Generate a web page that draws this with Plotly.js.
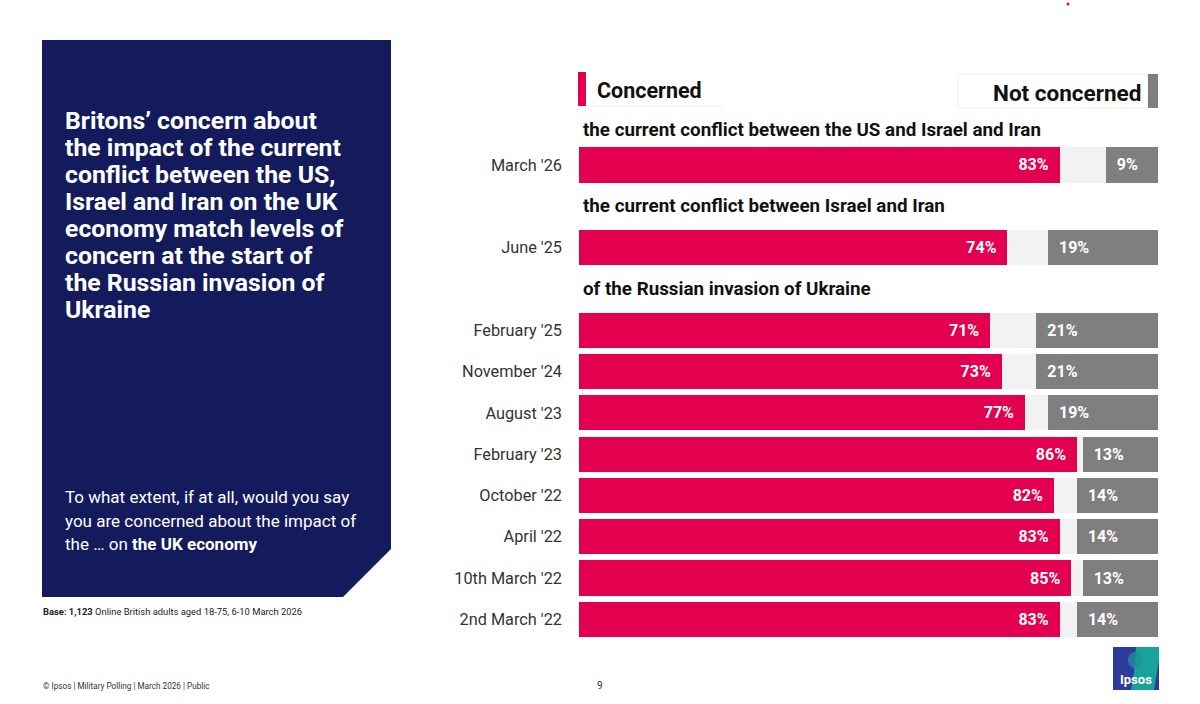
<!DOCTYPE html>
<html>
<head>
<meta charset="utf-8">
<script src="https://cdn.plot.ly/plotly-3.0.1.min.js"></script>
<style>
  html, body { margin: 0; padding: 0; background: #ffffff; }
  #chart { width: 1200px; height: 704px; }
</style>
</head>
<body>
<div id="chart"></div>
<script>
// ---------- DATA ----------
const groupHeaders = [
  "the current conflict between the US and Israel and Iran",
  "the current conflict between Israel and Iran",
  "of the Russian invasion of Ukraine"
];
const groupSizes = [1, 1, 8];
const waveLabels = ["March '26", "June '25", "February '25", "November '24", "August '23",
                    "February '23", "October '22", "April '22", "10th March '22", "2nd March '22"];
const concerned = [83, 74, 71, 73, 77, 86, 82, 83, 85, 83];
const notConcerned = [9, 19, 21, 21, 19, 13, 14, 14, 13, 14];
const dontKnow = concerned.map((c, i) => 100 - c - notConcerned[i]);

const titleLines = [
  "Britons\u2019 concern about",
  "the impact of the current",
  "conflict between the US,",
  "Israel and Iran on the UK",
  "economy match levels of",
  "concern at the start of",
  "the Russian invasion of",
  "Ukraine"
];
const questionLines = [
  "To what extent, if at all, would you say",
  "you are concerned about the impact of",
  "the \u2026 on <b>the UK economy</b>"
];
const baseNote = "<b>Base: 1,123</b> Online British adults aged 18-75, 6-10 March 2026";
const footerNote = "\u00a9 Ipsos | Military Polling | March 2026 | Public";
const pageNumber = "9";

// ---------- LAYOUT HELPERS ----------
const rowPos = [];
const headerPos = [];
let slot = 0;
groupSizes.forEach((n, g) => {
  headerPos.push(g === 0 ? slot - 0.85 : slot - 1);
  for (let k = 0; k < n; k++) { rowPos.push(slot); slot++; }
  slot++;
});

const W = 1200, H = 704;
const M = { l: 579, r: 42, t: 103, b: 64 };
const PW = W - M.l - M.r, PH = H - M.t - M.b;
const px = x => (x - M.l) / PW;
const py = y => (H - M.b - y) / PH;

const FONT = "Roboto, 'Open Sans', sans-serif";
const PINK = "#e2004f", GREY = "#7f7f7f", LIGHT = "#f2f2f2", NAVY = "#141b5c";

// ---------- TRACES ----------
const common = {
  type: "bar", orientation: "h", y: rowPos, width: 0.85,
  hoverinfo: "skip", textposition: "inside", cliponaxis: false,
  textfont: { family: FONT, size: 16, color: "#ffffff", weight: 700 }
};
const traces = [
  Object.assign({}, common, {
    name: "Concerned", x: concerned, marker: { color: PINK },
    texttemplate: "%{x}%\u00a0\u00a0", insidetextanchor: "end"
  }),
  Object.assign({}, common, {
    name: "Don't know", x: dontKnow, marker: { color: LIGHT }, text: "", texttemplate: ""
  }),
  Object.assign({}, common, {
    name: "Not concerned", x: notConcerned, marker: { color: GREY },
    texttemplate: "\u00a0\u00a0%{x}%", insidetextanchor: "start"
  })
];

// ---------- SHAPES ----------
const shapes = [];
const panelPath = `M ${px(42)} ${py(40)} L ${px(391)} ${py(40)} L ${px(391)} ${py(549)} L ${px(343)} ${py(597)} L ${px(42)} ${py(597)} Z`;
shapes.push({ type: "path", xref: "paper", yref: "paper", path: panelPath, fillcolor: NAVY, line: { width: 0 }, layer: "below" });
shapes.push({ type: "rect", xref: "paper", yref: "paper", x0: px(578), x1: px(586), y0: py(106), y1: py(72), fillcolor: PINK, line: { width: 0 } });
shapes.push({ type: "line", xref: "paper", yref: "paper", x0: px(586), x1: px(722), y0: py(106), y1: py(106), line: { color: "#ececec", width: 1 } });
shapes.push({ type: "rect", xref: "paper", yref: "paper", x0: px(958), x1: px(1148), y0: py(108), y1: py(74), fillcolor: "rgba(0,0,0,0)", line: { color: "#ececec", width: 1 } });
shapes.push({ type: "rect", xref: "paper", yref: "paper", x0: px(1148), x1: px(1158), y0: py(108), y1: py(74), fillcolor: GREY, line: { width: 0 } });
shapes.push({ type: "circle", xref: "paper", yref: "paper", x0: px(1066.5), x1: px(1069.5), y0: py(5.5), y1: py(2.5), fillcolor: "#e2004f", line: { width: 0 } });
// Ipsos logo
shapes.push({ type: "rect", xref: "paper", yref: "paper", x0: px(1113), x1: px(1159), y0: py(690), y1: py(647), fillcolor: "#2d3b9a", line: { width: 0 } });
shapes.push({ type: "path", xref: "paper", yref: "paper",
  path: `M ${px(1136)} ${py(647)} L ${px(1159)} ${py(647)} L ${px(1159)} ${py(660)} L ${px(1154)} ${py(690)} L ${px(1131)} ${py(690)} L ${px(1134)} ${py(672)} Z`,
  fillcolor: "#17a39b", line: { width: 0 } });
shapes.push({ type: "circle", xref: "paper", yref: "paper", x0: px(1128), x1: px(1142), y0: py(668), y1: py(652), fillcolor: "#1f8f9a", line: { width: 0 }, opacity: 0.8 });

// ---------- ANNOTATIONS ----------
const annotations = [];
groupHeaders.forEach((h, i) => {
  annotations.push({ xref: "x", yref: "y", x: 0, y: headerPos[i], xanchor: "left", yanchor: "middle",
    xshift: 2, text: "<b>" + h + "</b>", showarrow: false, font: { family: FONT, size: 18.8, color: "#111111" } });
});
annotations.push({ xref: "paper", yref: "paper", x: px(595), y: py(90), xanchor: "left", yanchor: "middle",
  text: "<b>Concerned</b>", showarrow: false, font: { family: FONT, size: 21.5, color: "#111111" } });
annotations.push({ xref: "paper", yref: "paper", x: px(1143), y: py(93), xanchor: "right", yanchor: "middle",
  text: "<b>Not concerned</b>", showarrow: false, font: { family: FONT, size: 22.5, color: "#111111" } });
titleLines.forEach((t, i) => {
  annotations.push({ xref: "paper", yref: "paper", x: px(63), y: py(120 + i * 27.1), xanchor: "left", yanchor: "middle",
    text: "<b>" + t + "</b>", showarrow: false, font: { family: FONT, size: 24.8, color: "#ffffff" } });
});
questionLines.forEach((t, i) => {
  annotations.push({ xref: "paper", yref: "paper", x: px(63), y: py(497 + i * 23.5), xanchor: "left", yanchor: "middle",
    text: t, showarrow: false, font: { family: FONT, size: 17, color: "#ffffff" } });
});
annotations.push({ xref: "paper", yref: "paper", x: px(41), y: py(611), xanchor: "left", yanchor: "middle",
  text: baseNote, showarrow: false, font: { family: FONT, size: 9.4, color: "#222222" } });
annotations.push({ xref: "paper", yref: "paper", x: px(41), y: py(686), xanchor: "left", yanchor: "middle",
  text: footerNote, showarrow: false, font: { family: FONT, size: 8.2, color: "#333333" } });
annotations.push({ xref: "paper", yref: "paper", x: px(600), y: py(685), xanchor: "center", yanchor: "middle",
  text: pageNumber, showarrow: false, font: { family: FONT, size: 10, color: "#333333" } });
annotations.push({ xref: "paper", yref: "paper", x: px(1135.5), y: py(679), xanchor: "center", yanchor: "middle",
  text: "<b>Ipsos</b>", showarrow: false, font: { family: FONT, size: 13, color: "#ffffff" } });

// ---------- LAYOUT ----------
const layout = {
  width: W, height: H,
  margin: M,
  paper_bgcolor: "#ffffff", plot_bgcolor: "#ffffff",
  barmode: "stack", showlegend: false,
  font: { family: FONT },
  xaxis: { range: [0, 100], visible: false, fixedrange: true },
  yaxis: {
    range: [rowPos[rowPos.length - 1] + 0.5, -1.5],
    tickvals: rowPos, ticktext: waveLabels,
    ticks: "", showgrid: false, zeroline: false, showline: false,
    ticklabelstandoff: 16,
    tickfont: { family: FONT, size: 16.3, color: "#333333" }, fixedrange: true
  },
  shapes: shapes,
  annotations: annotations
};

Plotly.newPlot("chart", traces, layout, { staticPlot: true, displayModeBar: false });
</script>
</body>
</html>
